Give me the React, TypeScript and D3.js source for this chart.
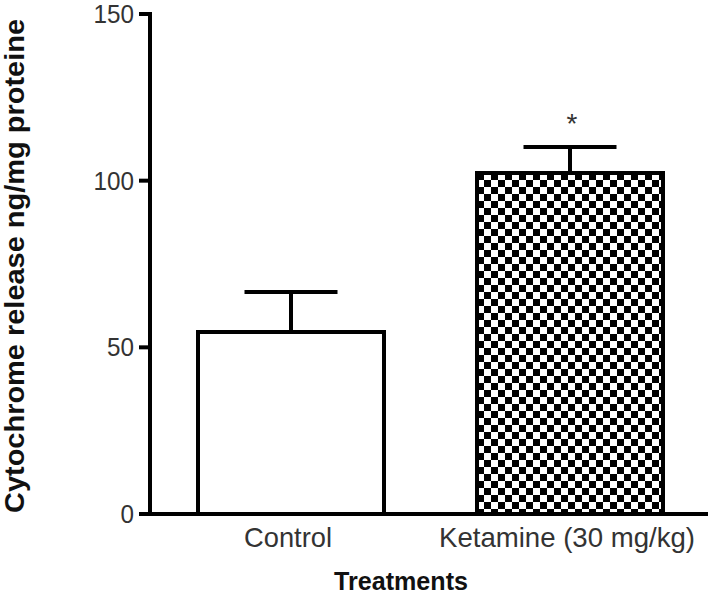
import React from 'react';
import * as d3 from 'd3';

const categories = ['Control', 'Ketamine (30 mg/kg)'];
const means = [54.6, 102.3];
const sems = [12.0, 7.8];
const stars = ['', '*'];
const yTicks = [0, 50, 100, 150];

const W = 708;
const H = 597;
const m = { left: 150, top: 14, bottom: 83 };

export default function App() {
  const y = d3.scaleLinear().domain([0, 150]).range([H - m.bottom, m.top]);
  // bars 186px wide, centers 279px apart
  const x = d3.scaleBand().domain(categories).range([198, 663]).paddingInner(1 / 3).paddingOuter(0);
  const bw = x.bandwidth();
  const font = '"Liberation Sans Narrow", "Arial Narrow", Arial, "Liberation Sans", sans-serif';
  const labelW = [88, 256];

  return (
    <svg width={W} height={H} style={{ position: 'absolute', left: 0, top: 0, background: '#fff' }}>
      <defs>
        <pattern id="checker" x={x(categories[1])} y={y(means[1])} width={14} height={14} patternUnits="userSpaceOnUse">
          <rect width={14} height={14} fill="#fff" />
          <rect x={0} y={0} width={7} height={7} fill="#000" />
          <rect x={7} y={7} width={7} height={7} fill="#000" />
        </pattern>
      </defs>
      {/* bars */}
      {categories.map((c, i) => {
        const x0 = x(c)!;
        const cx = x0 + bw / 2;
        const top = y(means[i]);
        const errTop = y(means[i] + sems[i]);
        return (
          <g key={c}>
            <line x1={cx} x2={cx} y1={top} y2={errTop} stroke="#000" strokeWidth={4} />
            <line x1={cx - bw / 4} x2={cx + bw / 4} y1={errTop} y2={errTop} stroke="#000" strokeWidth={4} />
            <rect x={x0} y={top} width={bw} height={y(0) - top}
              fill={i === 0 ? '#fff' : 'url(#checker)'} stroke="#000" strokeWidth={4} />
            {stars[i] && (
              <text x={cx + 2} y={errTop - 14} textAnchor="middle" fontFamily={font} fontSize={28} fill="#333">{stars[i]}</text>
            )}
            <text x={cx - 3} y={y(0) + 33} textAnchor="middle" fontFamily={font} fontSize={28} fill="#333"
              textLength={labelW[i]} lengthAdjust="spacingAndGlyphs">{c}</text>
          </g>
        );
      })}
      {/* axes */}
      <line x1={m.left} x2={m.left} y1={y(150) - 2} y2={y(0) + 2} stroke="#000" strokeWidth={4} />
      <line x1={m.left - 2} x2={W} y1={y(0)} y2={y(0)} stroke="#000" strokeWidth={4} />
      {yTicks.map(t => (
        <g key={t}>
          <line x1={m.left - 11} x2={m.left} y1={y(t)} y2={y(t)} stroke="#000" strokeWidth={4} />
          <text x={m.left - 16} y={y(t) + 9} textAnchor="end" fontFamily={font} fontSize={25} fill="#333"
            textLength={String(t).length * 13.5} lengthAdjust="spacingAndGlyphs">{t}</text>
        </g>
      ))}
      <text x={401} y={590} textAnchor="middle" fontFamily={font} fontSize={26} fontWeight="bold" fill="#111"
        textLength={134} lengthAdjust="spacingAndGlyphs">Treatments</text>
      <text transform={`translate(24,266) rotate(-90)`} textAnchor="middle"
        fontFamily={font} fontSize={28} fontWeight="bold" fill="#111"
        textLength={494} lengthAdjust="spacingAndGlyphs">Cytochrome  release ng/mg proteine</text>
    </svg>
  );
}
